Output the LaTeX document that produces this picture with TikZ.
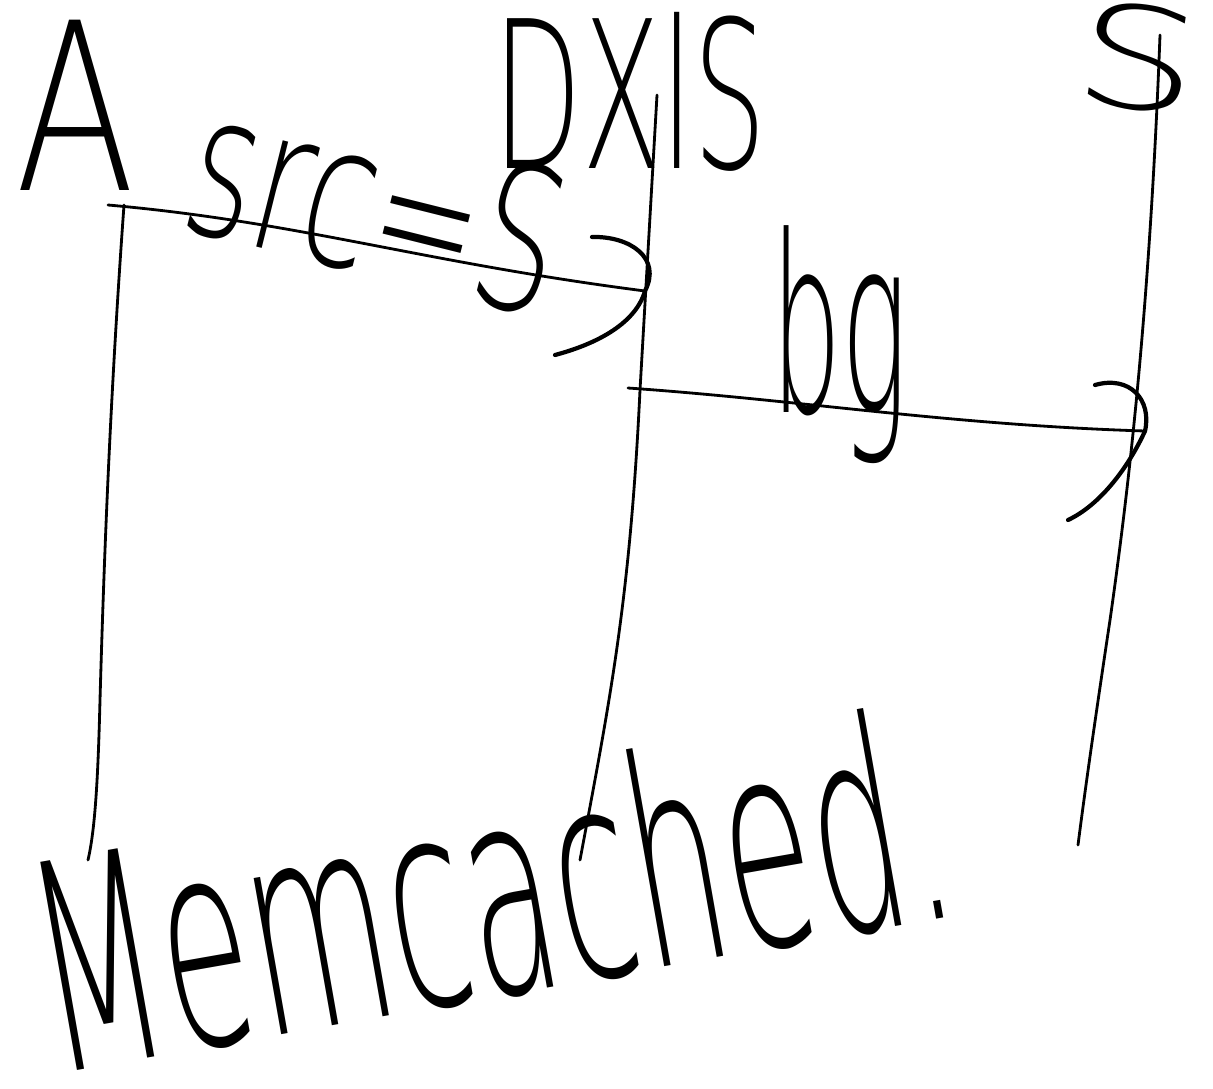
\documentclass[tikz,border=0pt]{standalone}
\usepackage{fontspec}
\setmainfont{Liberation Sans}
\newfontfamily\hand{DejaVu Sans ExtraLight}
\begin{document}
\begin{tikzpicture}[x=0.02cm,y=-0.02cm,
  life/.style={line width=1.6pt, line cap=round},
  msg/.style={line width=1.6pt, line cap=round},
  head/.style={line width=2.4pt, line cap=round, line join=round},
  hw/.style={inner sep=0pt, outer sep=0pt, font=\hand},
]
\useasboundingbox (0,0) rectangle (1213,1088);
% participants
\node[hw, xscale=0.75] (A) at (75,105) {\fontsize{133}{140}\selectfont A};
\node[hw, xscale=0.56] (P) at (630,92) {\fontsize{117}{120}\selectfont DXlS};
\node[hw, rotate=-8, xscale=1.4] (S) at (1138,58) {\fontsize{80}{90}\selectfont S};
% lifeline coordinates
\coordinate (a0) at (124,205);
\coordinate (a1) at (88,860);
\coordinate (p0) at (657,95);
\coordinate (p1) at (580,860);
\coordinate (s0) at (1160,35);
\coordinate (s1) at (1078,845);
% lifelines
\draw[life] (a0) .. controls (110,400) and (104,560) .. (100,700) .. controls (98,780) and (95,830) .. (a1);
\draw[life] (p0) -- (640,390) .. controls (630,600) and (610,700) .. (p1);
\draw[life] (s0) .. controls (1150,300) and (1130,480) .. (1110,620) .. controls (1095,720) and (1085,790) .. (s1);
% message 1: src=S
\coordinate (m1s) at (108,205);
\coordinate (m1e) at (645,291);
\draw[msg] (m1s) .. controls (300,222) and (420,262) .. (m1e);
\draw[head] (592,237) .. controls (630,236) and (662,258) .. (m1e) .. controls (636,322) and (600,343) .. (555,355);
\node[hw, rotate=-14, xscale=0.64] (L1) at (378,202) {\fontsize{114}{120}\selectfont src=S};
% message 2: bg
\coordinate (m2s) at (628,388);
\coordinate (m2e) at (1145,431);
\draw[msg] (m2s) .. controls (800,400) and (950,425) .. (m2e);
\draw[head] (1095,385) .. controls (1130,375) and (1152,400) .. (m2e) .. controls (1128,468) and (1100,505) .. (1068,520);
\node[hw, xscale=0.45] (B) at (840,345) {\fontsize{140}{150}\selectfont bg};
% bottom label
\node[hw, rotate=10, xscale=0.5] (M) at (490,888) {\fontsize{165}{175}\selectfont Memcached.};
\end{tikzpicture}
\end{document}
